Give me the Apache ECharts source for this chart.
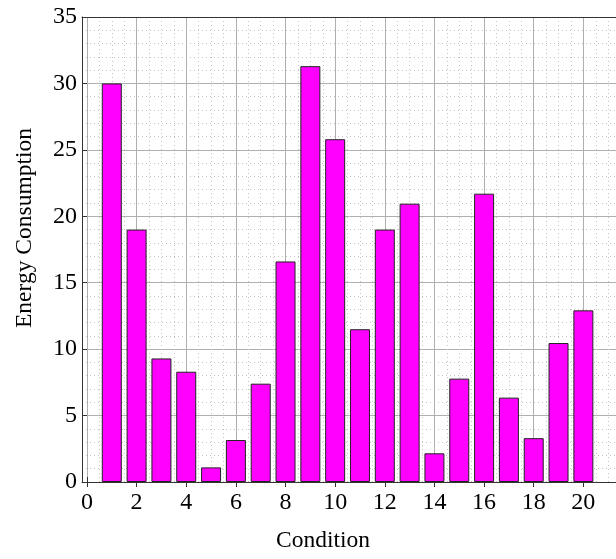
<!DOCTYPE html>
<html>
<head>
<meta charset="utf-8">
<script src="https://cdn.jsdelivr.net/npm/echarts@6/dist/echarts.min.js"></script>
<style>
  html, body { margin: 0; padding: 0; background: #ffffff; }
  #chart { width: 616px; height: 559px; }
</style>
</head>
<body>
<div id="chart"></div>
<script>
// condition numbers and measured energy consumption
const conditions = [1, 2, 3, 4, 5, 6, 7, 8, 9, 10, 11, 12, 13, 14, 15, 16, 17, 18, 19, 20];
const energy = [30.0, 19.0, 9.3, 8.3, 1.1, 3.16, 7.4, 16.6, 31.3, 25.8, 11.5, 19.0, 20.95, 2.16, 7.78, 21.7, 6.35, 3.3, 10.46, 12.92];
const xTitle = "Condition";
const yTitle = "Energy Consumption";

const font = "Liberation Serif";
const axisDark = "#333333";
const majorGrid = "#b0b0b0";
const minorGrid = "#c4c4c4";

const chart = echarts.init(document.getElementById("chart"), null, { renderer: "canvas" });

const xMin = -0.2;
const xMax = 21.6;
const pxPerUnit = 24.82;
const plotLeft = 82;
const plotTop = 17;
const plotHeight = 465;

const hiddenAxis = {
    axisLine: { show: false },
    axisTick: { show: false },
    axisLabel: { show: false },
    splitLine: { show: false },
};

const option = {
    backgroundColor: "#ffffff",
    animation: false,
    grid: [
        // bars, borders and y axis
        { left: plotLeft, top: plotTop, width: (xMax - xMin) * pxPerUnit, height: plotHeight, outerBoundsMode: "none", containLabel: false },
        // x grid lines / labels, starts at x = 0
        { left: plotLeft - xMin * pxPerUnit, top: plotTop, width: xMax * pxPerUnit, height: plotHeight, outerBoundsMode: "none", containLabel: false },
    ],
    xAxis: [
        {
            gridIndex: 0, type: "value", position: "bottom", min: xMin, max: xMax,
            ...hiddenAxis,
            axisLine: { show: true, onZero: false, lineStyle: { color: axisDark, width: 1 } },
        },
        {
            gridIndex: 0, type: "value", position: "top", min: xMin, max: xMax,
            ...hiddenAxis,
            axisLine: { show: true, onZero: false, lineStyle: { color: axisDark, width: 1 } },
        },
        {
            gridIndex: 1, type: "value", position: "bottom", min: 0, max: xMax, interval: 2,
            axisLine: { show: false, onZero: false },
            axisTick: { show: true, inside: true, length: 5, lineStyle: { color: axisDark } },
            axisLabel: {
                show: true, showMaxLabel: false, margin: 9,
                color: "#000", fontFamily: font, fontSize: 24,
            },
            splitLine: { show: true, lineStyle: { color: majorGrid, width: 1 } },
            minorTick: { show: false, splitNumber: 4 },
            minorSplitLine: { show: true, lineStyle: { color: minorGrid, type: [1, 3], width: 1 } },
        },
        {
            gridIndex: 1, type: "value", position: "top", min: 0, max: xMax, interval: 2,
            ...hiddenAxis,
            axisTick: { show: true, inside: true, length: 5, lineStyle: { color: axisDark } },
        },
    ],
    yAxis: [
        {
            gridIndex: 0, type: "value", position: "left", min: 0, max: 35, interval: 5,
            axisLine: { show: true, onZero: false, lineStyle: { color: axisDark, width: 1 } },
            axisTick: { show: true, inside: true, length: 5, lineStyle: { color: axisDark } },
            axisLabel: { color: "#000", fontFamily: font, fontSize: 24, margin: 5 },
            splitLine: { show: true, lineStyle: { color: majorGrid, width: 1 } },
            minorTick: { show: false, splitNumber: 5 },
            minorSplitLine: { show: true, lineStyle: { color: minorGrid, type: [1, 3], width: 1 } },
        },
        { gridIndex: 1, type: "value", min: 0, max: 35, ...hiddenAxis },
    ],
    graphic: [
        {
            type: "text", x: 323, y: 541,
            style: {
                text: xTitle, fill: "#000", font: "23.5px 'Liberation Serif'",
                align: "center", verticalAlign: "middle",
            },
        },
        {
            type: "text", x: 25, y: 228, rotation: Math.PI / 2,
            style: {
                text: yTitle, fill: "#000", font: "23.5px 'Liberation Serif'",
                align: "center", verticalAlign: "middle",
            },
        },
    ],
    series: [
        {
            type: "bar",
            xAxisIndex: 0,
            yAxisIndex: 0,
            barWidth: 20,
            data: conditions.map((c, i) => [c, energy[i]]),
            itemStyle: { color: "#ff00ff", borderColor: "#222222", borderWidth: 1 },
            emphasis: { disabled: true },
        },
    ],
};

chart.setOption(option);
</script>
</body>
</html>
